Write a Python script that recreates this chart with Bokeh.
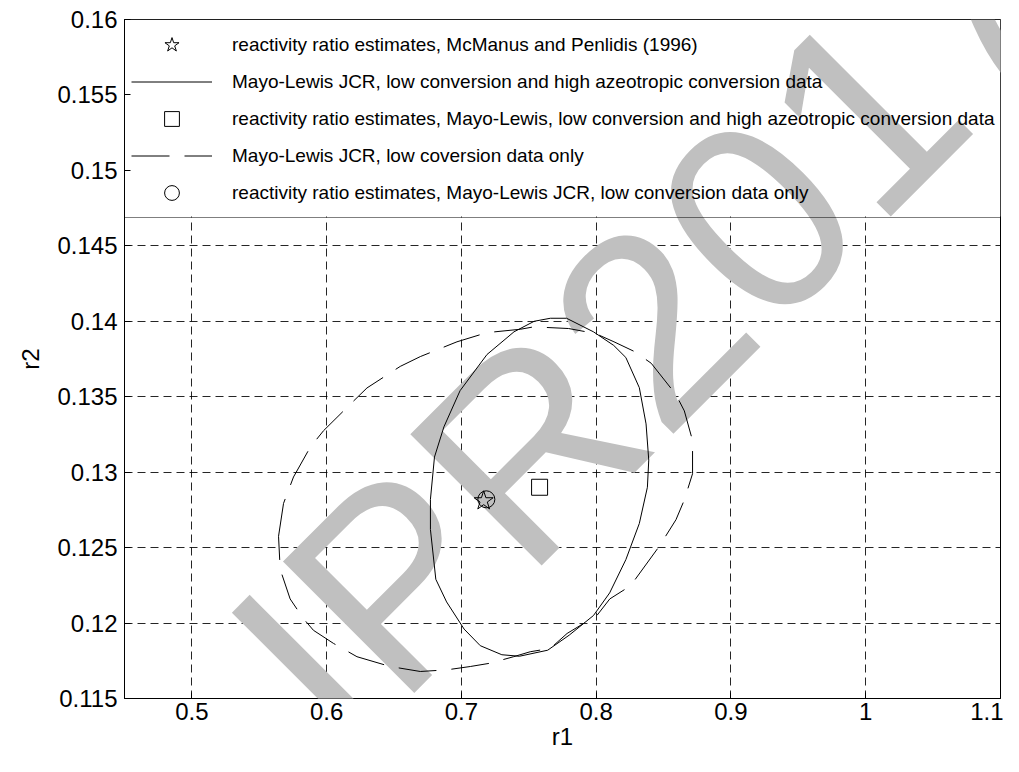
from bokeh.plotting import figure
from bokeh.models import FixedTicker, Legend, LegendItem, Label, BoxAnnotation, Range1d
from bokeh.embed import file_html
from bokeh.resources import INLINE

# ---------------- data ----------------
x_ticks = [0.5, 0.6, 0.7, 0.8, 0.9, 1.0, 1.1]
x_tick_labels = ["0.5", "0.6", "0.7", "0.8", "0.9", "1", "1.1"]
y_ticks = [0.115, 0.12, 0.125, 0.13, 0.135, 0.14, 0.145, 0.15, 0.155, 0.16]
y_tick_labels = ["0.115", "0.12", "0.125", "0.13", "0.135", "0.14", "0.145", "0.15", "0.155", "0.16"]
y_grid_ticks = [0.12, 0.125, 0.13, 0.135, 0.14, 0.145]

star_r1 = [0.7165]
star_r2 = [0.1281]
square_r1 = [0.758]
square_r2 = [0.129]
circle_r1 = [0.7185]
circle_r2 = [0.1282]

# JCR, low conversion and high azeotropic conversion data (solid)
solid_r1 = [0.766, 0.778, 0.798, 0.813, 0.822, 0.832, 0.837, 0.839, 0.838, 0.832,
            0.822, 0.810, 0.798, 0.780, 0.764, 0.743, 0.730, 0.714, 0.702, 0.689,
            0.681, 0.677, 0.677, 0.680, 0.687, 0.699, 0.719, 0.739, 0.754, 0.766]
solid_r2 = [0.1402, 0.1402, 0.1393, 0.1384, 0.1376, 0.1356, 0.1332, 0.1308, 0.1290, 0.1266,
            0.1242, 0.1220, 0.1205, 0.1192, 0.1182, 0.1178, 0.1179, 0.1185, 0.1196, 0.1214,
            0.1229, 0.1262, 0.1282, 0.1310, 0.1330, 0.1354, 0.1378, 0.1393, 0.1400, 0.1402]

# JCR, low conversion data only (dashed)
dashed_r1 = [0.5643, 0.5680, 0.5754, 0.5878, 0.5977, 0.6199, 0.6299, 0.6546, 0.6695, 0.6967,
             0.7190, 0.7437, 0.7536, 0.7795, 0.7994, 0.8132, 0.8285, 0.8408, 0.8592, 0.8654,
             0.8715, 0.8715, 0.8654, 0.8592, 0.8469, 0.8255, 0.8101, 0.8006, 0.7784, 0.7660,
             0.7511, 0.7387, 0.7214, 0.7066, 0.6893, 0.6695, 0.6472, 0.6225, 0.6051, 0.5902,
             0.5828, 0.5729, 0.5655, 0.5643]
dashed_r2 = [0.12575, 0.12793, 0.12968, 0.13165, 0.13275, 0.13471, 0.13558, 0.13701, 0.13766, 0.13864,
             0.13925, 0.13947, 0.13963, 0.13952, 0.13919, 0.13864, 0.13799, 0.13722, 0.13514, 0.13406,
             0.13209, 0.12990, 0.12816, 0.12685, 0.12510, 0.12247, 0.12160, 0.12051, 0.11931, 0.11832,
             0.11810, 0.11777, 0.11734, 0.11712, 0.11690, 0.11679, 0.11712, 0.11777, 0.11865, 0.11952,
             0.12029, 0.12160, 0.12357, 0.12575]

legend_labels = [
    "reactivity ratio estimates, McManus and Penlidis (1996)",
    "Mayo-Lewis JCR, low conversion and high azeotropic conversion data",
    "reactivity ratio estimates, Mayo-Lewis, low conversion and high azeotropic conversion data",
    "Mayo-Lewis JCR, low coversion data only",
    "reactivity ratio estimates, Mayo-Lewis JCR, low conversion data only",
]

# ---------------- figure ----------------
p = figure(width=1003, height=756, output_backend="svg", toolbar_location=None,
           x_range=Range1d(0.45, 1.1), y_range=Range1d(0.115, 0.16),
           min_border_left=124, min_border_right=3, min_border_top=19, min_border_bottom=58,
           x_axis_label="r1", y_axis_label="r2")
p.background_fill_color = "white"
p.border_fill_color = "white"
p.outline_line_color = "black"
p.outline_line_width = 1

for ax, ticks, labels in [(p.xaxis[0], x_ticks, x_tick_labels), (p.yaxis[0], y_ticks, y_tick_labels)]:
    ax.ticker = FixedTicker(ticks=ticks)
    ax.major_label_overrides = dict(zip(ticks, labels))
    ax.axis_line_color = "black"
    ax.axis_line_width = 1
    ax.major_tick_in = 6
    ax.major_tick_out = 0
    ax.major_tick_line_color = "black"
    ax.minor_tick_line_color = None
    ax.major_label_text_font = "Liberation Sans"
    ax.major_label_text_font_size = "24px"
    ax.major_label_text_color = "black"
    ax.axis_label_text_font = "Liberation Sans"
    ax.axis_label_text_font_size = "24px"
    ax.axis_label_text_font_style = "normal"
    ax.axis_label_text_color = "black"

p.xaxis[0].major_label_standoff = 4
p.xaxis[0].axis_label_standoff = 0
p.yaxis[0].major_label_standoff = 7
p.yaxis[0].axis_label_standoff = 10

p.xgrid[0].ticker = FixedTicker(ticks=x_ticks)
p.ygrid[0].ticker = FixedTicker(ticks=y_grid_ticks)
for g in (p.xgrid[0], p.ygrid[0]):
    g.grid_line_color = "black"
    g.grid_line_alpha = 0.85
    g.grid_line_dash = "8 5"
    g.grid_line_width = 1

# white area behind the legend (hides the grid there)
cover = BoxAnnotation(bottom=0.14694, fill_color="white", fill_alpha=1.0,
                      line_alpha=0, level="underlay")
p.add_layout(cover)

# watermark (drawn under the data)
wm = Label(x=0.5650, y=0.11520, text="IPR2017", angle=45, angle_units="deg",
           text_font="Liberation Sans", text_font_size="270px", text_color="#c0c0c0",
           text_align="left", text_baseline="alphabetic", level="guide")
p.add_layout(wm)

# ---------------- glyphs ----------------
r_solid = p.line(solid_r1, solid_r2, line_color="black", line_width=1, level="annotation")
r_dashed = p.line(dashed_r1, dashed_r2, line_color="black", line_width=1, line_dash="38 15",
                  level="annotation")
r_star = p.scatter(star_r1, star_r2, marker="star", size=20, line_color="black",
                   fill_alpha=0, line_width=1, level="annotation")
r_square = p.scatter(square_r1, square_r2, marker="square", size=16, line_color="black",
                     fill_alpha=0, line_width=1, level="annotation")
r_circle = p.scatter(circle_r1, circle_r2, marker="circle", size=17, line_color="black",
                     fill_alpha=0, line_width=1, level="annotation")

legend = Legend(items=[
    LegendItem(label=legend_labels[0], renderers=[r_star]),
    LegendItem(label=legend_labels[1], renderers=[r_solid]),
    LegendItem(label=legend_labels[2], renderers=[r_square]),
    LegendItem(label=legend_labels[3], renderers=[r_dashed]),
    LegendItem(label=legend_labels[4], renderers=[r_circle]),
], location="top_left", margin=0, padding=6, spacing=0,
   glyph_height=37, label_height=37, glyph_width=81, label_standoff=20,
   label_text_font="Liberation Sans", label_text_font_size="19px",
   label_text_color="black", border_line_color="black", border_line_width=1.5,
   background_fill_alpha=0)
p.add_layout(legend)

open("out.html", "w").write(file_html(p, INLINE))
